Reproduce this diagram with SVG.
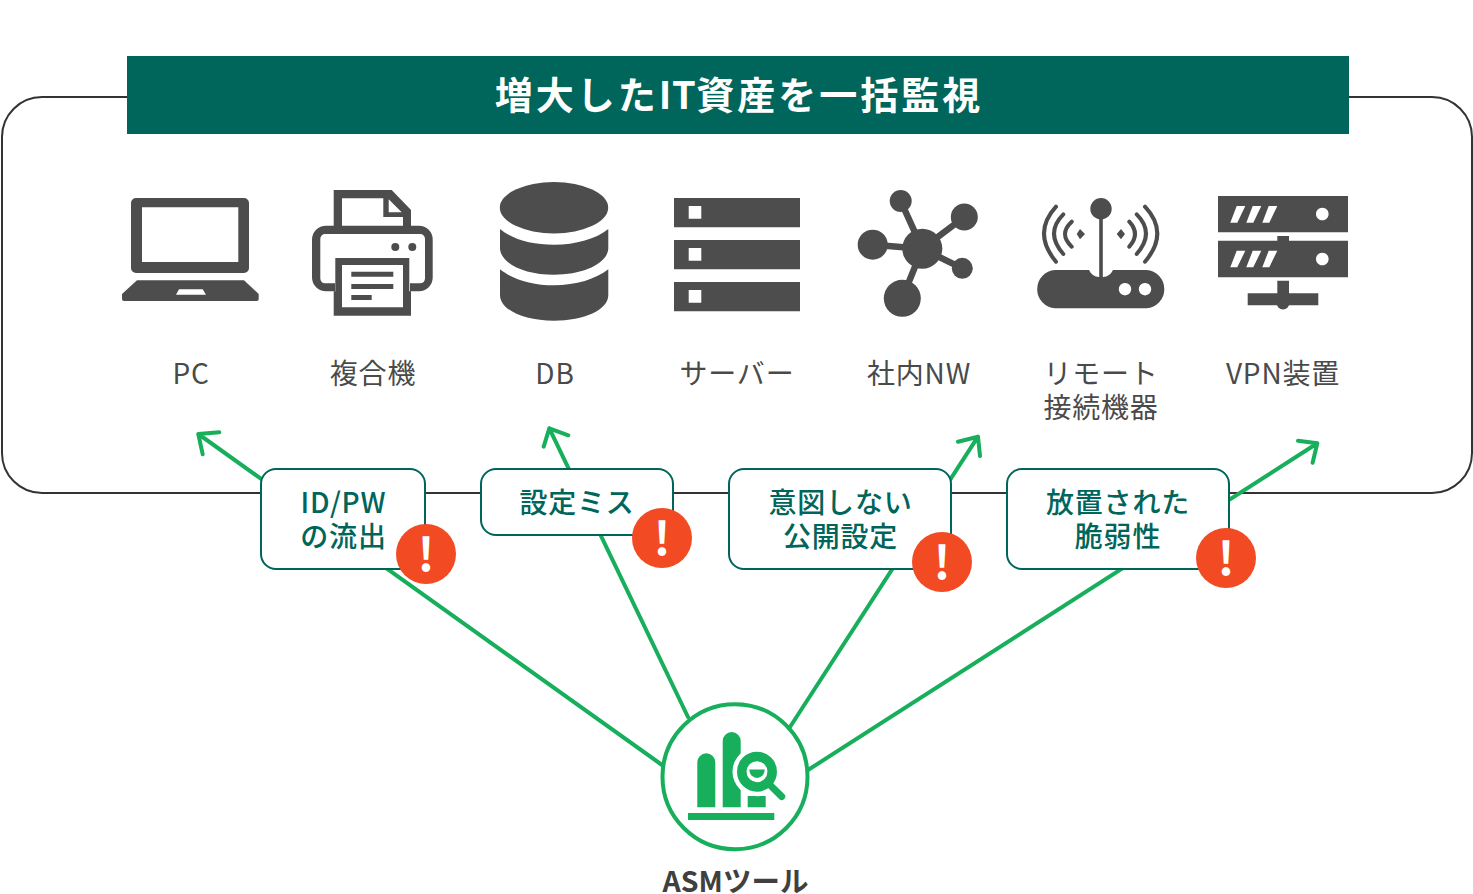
<svg xmlns="http://www.w3.org/2000/svg" width="1473" height="894" viewBox="0 0 1473 894">
<style>
text{font-family:"Noto Sans CJK JP","Noto Sans",sans-serif}
.lab{font-size:28px;fill:#4a4a4a;text-anchor:middle;letter-spacing:.8px}
.box{fill:#fff;stroke:#00655a;stroke-width:2}
.t{font-size:28px;font-weight:500;fill:#00655a;text-anchor:middle;letter-spacing:.8px}
.ic{fill:#4d4d4d}
.co{fill:none;stroke:#17ae5c;stroke-width:4;stroke-linecap:round;stroke-linejoin:round}
.ex{font-size:46px;font-weight:700;fill:#fff;text-anchor:middle}
.bad{fill:#f24a22}
</style>
<rect id="frame" x="2" y="97" width="1470" height="396" rx="40" fill="#fff" stroke="#333" stroke-width="2"/>
<g id="header"><rect x="127" y="56" width="1222" height="78" fill="#00655a"/><text x="739" y="109" font-size="38" font-weight="700" fill="#fff" text-anchor="middle" letter-spacing="3">増大した<tspan letter-spacing="0.5">IT</tspan>資産を一括監視</text></g>
<g id="connectors">
<path class="co" d="M662,765 L198.3,434 M219.3,432.3 L198.3,434 L202.7,454.3"/>
<path class="co" d="M688,717 L549.3,428.3 M568.3,435.3 L549.3,428.3 L543.7,446.7"/>
<path class="co" d="M790,727 L978,436.7 M958,441.7 L978,436.7 L980,456"/>
<path class="co" d="M808,770 L1317.3,443.3 M1298,440.7 L1317.3,443.3 L1312.6,462.7"/>
</g>
<g id="pc"><path class="ic" fill-rule="evenodd" d="M136,198H244a5,5 0 0 1 5,5V268a5,5 0 0 1 -5,5H136a5,5 0 0 1 -5,-5V203a5,5 0 0 1 5,-5ZM142,207.3V262H238.3V207.3Z"/><path class="ic" fill-rule="evenodd" d="M137,280.3H244L258.7,294V299a2,2 0 0 1 -2,2H124a2,2 0 0 1 -2,-2V294ZM179,289.3L176,294.7H206L202.7,289.3Z"/><text class="lab" x="191" y="384">PC</text></g>
<g id="printer"><path class="ic" fill-rule="evenodd" d="M333.7,190H391.7L411,210V227.3H333.7ZM342,198.3V227.3H403V217H383.3V198.3ZM388.7,199.3V212.3H401.7Z"/><path class="ic" fill-rule="evenodd" d="M326,225.7H419a13.7,13.7 0 0 1 13.7,13.7V277.6a13.7,13.7 0 0 1 -13.7,13.7H326a14,14 0 0 1 -14,-14V239.7a14,14 0 0 1 14,-14ZM325,234a4.7,4.7 0 0 0 -4.7,4.7V278.6a4.7,4.7 0 0 0 4.7,4.7H420.3a4.7,4.7 0 0 0 4.7,-4.7V238.7a4.7,4.7 0 0 0 -4.7,-4.7Z"/><path fill="#fff" d="M335,258H410V292H335Z"/><path class="ic" fill-rule="evenodd" d="M335.3,258H409.3V291.3H411V315.7H333.7V291.3H335.3ZM342,265V307.3H403V265ZM351.3,271.7H393.3V276.7H351.3ZM351.3,284H393.3V289H351.3ZM351.3,295H371.7V300H351.3Z"/><circle class="ic" cx="395.3" cy="247" r="4"/><circle class="ic" cx="412.3" cy="247" r="4"/><text class="lab" x="373" y="384">複合機</text></g>
<g id="db"><ellipse class="ic" cx="554" cy="207.7" rx="54.2" ry="25.7"/><path class="ic" d="M500,229C512,239 532,244.7 554,244.7S596,239 608.3,229V248C608.3,263 584,274.7 554,274.7S500,263 500,248Z"/><path class="ic" d="M500,269.3C512,279 532,285.3 554,285.3S596,279 608.3,269.3V295C608.3,310 584,320.7 554,320.7S500,310 500,295Z"/><text class="lab" x="555" y="384">DB</text></g>
<g id="server"><path class="ic" fill-rule="evenodd" d="M674,198H800V227.3H674ZM688.7,206V218.7H701.3V206ZM674,240H800V269.3H674ZM688.7,248V260.7H701.3V248ZM674,282H800V311.3H674ZM688.7,290V302.7H701.3V290Z"/><text class="lab" x="737" y="384">サーバー</text></g>
<g id="nw"><path d="M922.3,248.7L900.7,201M922.3,248.7L964.3,217M922.3,248.7L872.7,244.7M922.3,248.7L962.3,268.3M922.3,248.7L902.3,298.3" stroke="#4d4d4d" stroke-width="6.5" fill="none"/><circle class="ic" cx="922.3" cy="248.7" r="20"/><circle class="ic" cx="900.7" cy="201" r="11"/><circle class="ic" cx="964.3" cy="217" r="13.5"/><circle class="ic" cx="872.7" cy="244.7" r="15"/><circle class="ic" cx="962.3" cy="268.3" r="10.5"/><circle class="ic" cx="902.3" cy="298.3" r="18.5"/><text class="lab" x="919" y="384">社内NW</text></g>
<g id="router"><path class="ic" fill-rule="evenodd" d="M1055,270H1089Q1092,276.5 1099,277H1103Q1110,276.5 1113,270H1146.5a19.2,19.2 0 0 1 0,38.3H1055a19.2,19.2 0 0 1 0,-38.3ZM1125,283a6.2,6.2 0 1 0 .01,0ZM1145,283a6.2,6.2 0 1 0 .01,0Z"/><circle class="ic" cx="1101" cy="208.7" r="10.7"/><path d="M1101,215V278" stroke="#4d4d4d" stroke-width="3.6"/><path d="M1080,229L1076.7,234L1080,239.3L1085,234ZM1121,229L1125,234L1121,239.3L1116.7,234Z" class="ic"/><path d="M1071.7,221.7Q1058.3,234 1071.7,246.7M1063.3,214.3Q1044.7,233 1063.3,254M1056,206.7Q1032,233 1056,261.7M1129.3,221.7Q1140.7,234 1129.3,246.7M1136.7,214.3Q1155.3,233 1136.7,254M1145,206.7Q1169.6,233 1145,261.7" fill="none" stroke="#4d4d4d" stroke-width="4" stroke-linecap="round"/><text class="lab" x="1101" y="384">リモート</text><text class="lab" x="1101" y="418">接続機器</text></g>
<g id="vpn"><path class="ic" fill-rule="evenodd" d="M1218,196H1348V232.3H1218ZM1230.3,222.7H1237.3L1245.3,206H1236.7ZM1246.3,222.7H1253.3L1261.3,206H1252.7ZM1262.3,222.7H1269.3L1277.3,206H1268.7ZM1322.3,207.7a6.3,6.3 0 1 0 .01,0ZM1218,240.7H1348V277.3H1218ZM1230.3,267.3H1237.3L1245.3,250.7H1236.7ZM1246.3,267.3H1253.3L1261.3,250.7H1252.7ZM1262.3,267.3H1269.3L1277.3,250.7H1268.7ZM1322.3,252.7a6.3,6.3 0 1 0 .01,0Z"/><path class="ic" d="M1277.3,236H1289V241H1277.3ZM1277.3,280.7H1289V293.3H1318.3V305.3H1247.7V293.3H1277.3Z"/><circle class="ic" cx="1283" cy="303" r="6.5"/><text class="lab" x="1283" y="384">VPN装置</text></g>
<g id="issue1"><rect class="box" x="261" y="469" width="164" height="100" rx="15"/><text class="t" x="343.5" y="512.5">ID/PW</text><text class="t" x="343.5" y="546.5">の流出</text><circle class="bad" cx="426" cy="554" r="30"/><text class="ex" x="426" y="571">!</text></g>
<g id="issue2"><rect class="box" x="481" y="469" width="192" height="66" rx="15"/><text class="t" x="577" y="512.5">設定ミス</text><circle class="bad" cx="662" cy="538" r="30"/><text class="ex" x="662" y="555">!</text></g>
<g id="issue3"><rect class="box" x="729" y="469" width="222" height="100" rx="15"/><text class="t" x="840.5" y="512.5">意図しない</text><text class="t" x="840.5" y="546.5">公開設定</text><circle class="bad" cx="942" cy="562" r="30"/><text class="ex" x="942" y="579">!</text></g>
<g id="issue4"><rect class="box" x="1007" y="469" width="222" height="100" rx="15"/><text class="t" x="1118" y="512.5">放置された</text><text class="t" x="1118" y="546.5">脆弱性</text><circle class="bad" cx="1226" cy="558" r="30"/><text class="ex" x="1226" y="575">!</text></g>
<g id="asm"><circle cx="735" cy="776.7" r="72.5" fill="#fff" stroke="#17ae5c" stroke-width="4"/><path fill="#17ae5c" d="M697.3,807.3V762.3a9,9 0 0 1 18,0V807.3ZM722.7,807.3V741a9,9 0 0 1 18,0V807.3ZM747.7,796H765.7V807.3H747.7ZM688,813H774.3V820H688Z"/><circle cx="757" cy="771.7" r="24.5" fill="#fff"/><path d="M771,786L781.7,796.5" stroke="#17ae5c" stroke-width="7" stroke-linecap="round"/><circle cx="757" cy="771.7" r="15.2" fill="#fff" stroke="#17ae5c" stroke-width="9.5"/><path d="M749.3,769.5H764.7A7.7,8.5 0 0 1 749.3,769.5Z" fill="#17ae5c"/><text x="735.5" y="892" font-size="28.5" font-weight="700" fill="#404040" text-anchor="middle">ASMツール</text></g>
</svg>
